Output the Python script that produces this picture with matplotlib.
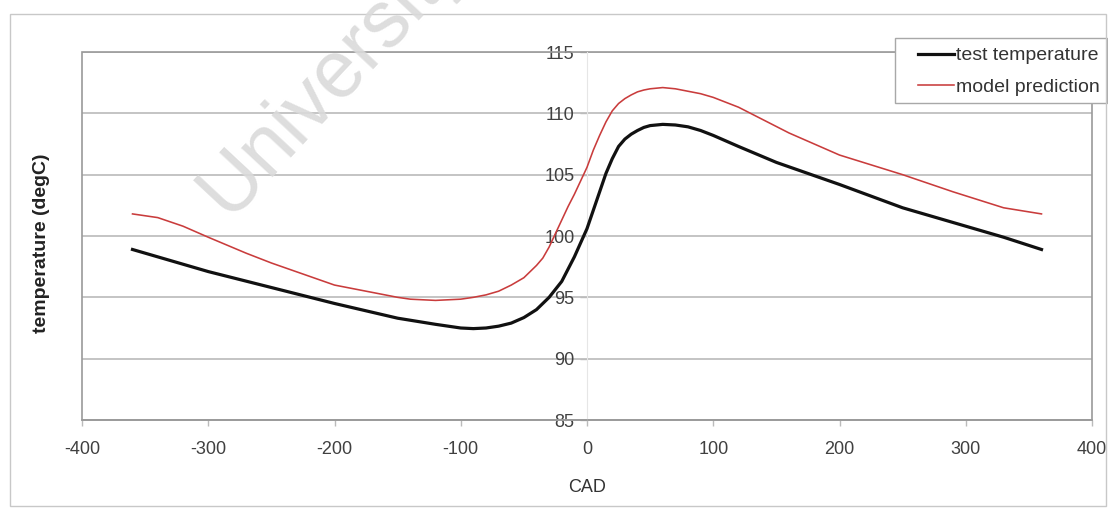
import matplotlib
matplotlib.use("Agg")
import matplotlib.pyplot as plt
from matplotlib.patches import Rectangle

plt.rcParams['font.family'] = ['Liberation Sans', 'DejaVu Sans']
plt.rcParams['axes.unicode_minus'] = False

# Crank angle (deg) and measured temperature (degC)
cad_test = [-360, -330, -300, -250, -200, -150, -120, -100, -90, -80, -70, -60, -50, -40,
            -30, -20, -10, 0, 5, 10, 15, 20, 25, 30, 35, 40, 45, 50, 60, 70, 80, 90, 100,
            120, 150, 200, 250, 300, 330, 360]
temp_test = [98.9, 98.0, 97.1, 95.8, 94.5, 93.3, 92.8, 92.5, 92.45, 92.5, 92.65, 92.9,
             93.35, 94.0, 95.0, 96.3, 98.3, 100.6, 102.1, 103.6, 105.1, 106.3, 107.3,
             107.9, 108.3, 108.6, 108.85, 109.0, 109.1, 109.05, 108.9, 108.6, 108.2,
             107.3, 106.0, 104.2, 102.3, 100.8, 99.9, 98.9]

# Crank angle (deg) and model-predicted temperature (degC)
cad_model = [-360, -340, -320, -300, -270, -250, -200, -180, -150, -140, -130, -120, -110,
             -100, -90, -80, -70, -60, -50, -40, -35, -30, -25, -20, -15, -10, -5, 0, 5,
             10, 15, 20, 25, 30, 35, 40, 45, 50, 60, 70, 80, 90, 100, 120, 160, 200, 250,
             290, 330, 360]
temp_model = [101.8, 101.5, 100.8, 99.9, 98.6, 97.8, 96.0, 95.6, 95.0, 94.85, 94.8, 94.75,
              94.8, 94.85, 95.0, 95.2, 95.5, 96.0, 96.6, 97.6, 98.2, 99.1, 100.2, 101.3,
              102.4, 103.4, 104.5, 105.6, 107.0, 108.2, 109.3, 110.2, 110.8, 111.2, 111.5,
              111.75, 111.9, 112.0, 112.1, 112.0, 111.8, 111.6, 111.3, 110.5, 108.4,
              106.6, 105.0, 103.6, 102.3, 101.8]

x_ticks = [-400, -300, -200, -100, 0, 100, 200, 300, 400]
y_ticks = [85, 90, 95, 100, 105, 110, 115]

W, H = 1108, 513
fig = plt.figure(figsize=(W / 100, H / 100), dpi=100)

def fx(px):
    return px / W

def fy(py):
    return 1 - py / H

# outer chart frame
fig.patches.append(Rectangle((fx(10), fy(506)), fx(1106) - fx(10), fy(14) - fy(506),
                             transform=fig.transFigure, fill=False,
                             edgecolor='#c8c8c8', linewidth=1.0))

ax = fig.add_axes([fx(82), fy(420), fx(1092) - fx(82), fy(52) - fy(420)])
ax.set_xlim(-400, 400)
ax.set_ylim(85, 115)

for y in y_ticks:
    ax.axhline(y, color='#b4b4b4', linewidth=1.1, zorder=1)

ax.plot(cad_test, temp_test, color='#111111', linewidth=2.3, label='test temperature',
        zorder=4, solid_joinstyle='round')
ax.plot(cad_model, temp_model, color='#c93c3c', linewidth=1.15, label='model prediction',
        zorder=3, solid_joinstyle='round')

# plot-area border
ax.add_patch(Rectangle((0, 0), 1, 1, transform=ax.transAxes, fill=False,
                       edgecolor='#9a9a9a', linewidth=1.2, zorder=2, clip_on=False))

for s in ['top', 'right']:
    ax.spines[s].set_visible(False)
ax.spines['bottom'].set_color('#9a9a9a')
ax.spines['bottom'].set_linewidth(1.2)
ax.spines['left'].set_position(('data', 0))
ax.spines['left'].set_color('#e6e6e6')
ax.spines['left'].set_linewidth(0.8)

ax.set_xticks(x_ticks)
ax.set_yticks(y_ticks)
ax.tick_params(axis='x', length=4, width=1, color='#bbbbbb', pad=11,
               labelsize=13, labelcolor='#404040')
ax.tick_params(axis='y', length=5, width=1, color='#bbbbbb', pad=4,
               labelsize=13, labelcolor='#404040')

ax.set_xlabel('CAD', fontsize=13, color='#333333', labelpad=15)
fig.text(fx(42), fy(243), 'temperature (degC)', rotation=90, ha='center', va='center',
         fontsize=14, fontweight='bold', color='#222222')

# legend box and entries
ax.add_patch(Rectangle((fx(895), fy(103)), fx(1107) - fx(895), fy(38) - fy(103),
                       transform=fig.transFigure, fill=True, facecolor='white',
                       edgecolor='#a8a8a8', linewidth=1.0, zorder=5, clip_on=False))
leg = ax.legend(loc='upper right', bbox_to_anchor=(fx(1106), fy(41)),
                bbox_transform=fig.transFigure, fontsize=14, frameon=False,
                handlelength=1.9, handletextpad=0.1, borderaxespad=0,
                borderpad=0.3, labelspacing=0.7)
leg.set_zorder(6)
for t in leg.get_texts():
    t.set_color('#333333')

# watermark
fig.text(fx(228), fy(218), 'University', rotation=47, rotation_mode='anchor',
         ha='left', va='baseline', fontsize=58, color='#dadada', alpha=0.9, zorder=10)

fig.savefig('out.png', dpi=100)
